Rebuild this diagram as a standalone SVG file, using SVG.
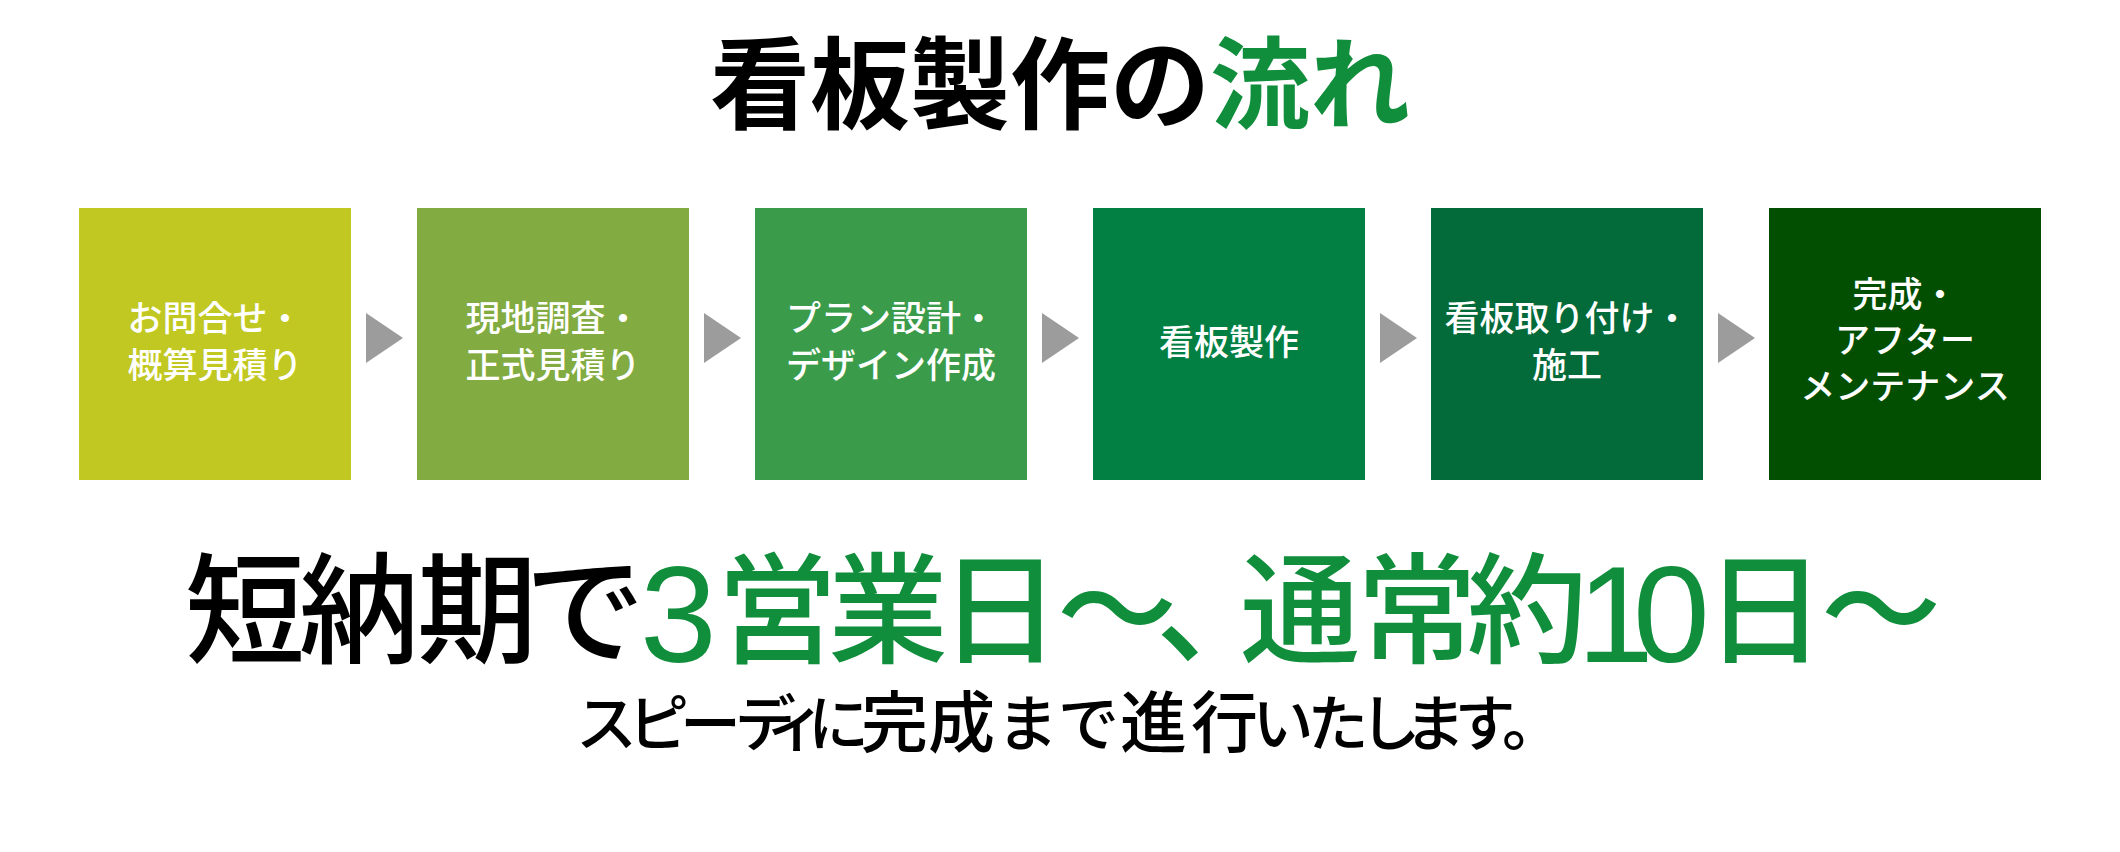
<svg xmlns="http://www.w3.org/2000/svg" width="2120" height="852" viewBox="0 0 2120 852">
<style>
.jp{font-family:"Noto Sans CJK JP","Noto Sans CJK SC",sans-serif}
.title{font-size:100px;font-weight:700;fill:#000}
.green{fill:#108E3C}
.box-label{font-size:35px;font-weight:500;fill:#fff;text-anchor:middle}
.tag{font-size:120px;font-weight:500;fill:#000}
.num{font-family:"Liberation Sans",Arial,sans-serif;font-size:138px;font-weight:400}
.sub{font-size:67px;font-weight:500;fill:#000}
.kana{font-size:61px}
.arrow{fill:#9C9C9C}
</style>
<rect width="2120" height="852" fill="#fff"/>
<text class="jp title" x="1060" y="121" text-anchor="middle">看板製作の<tspan class="green">流れ</tspan></text>

<g id="connectors">
<polygon class="arrow" points="366,313 403,338 366,363"/>
<polygon class="arrow" points="704,313 741,338 704,363"/>
<polygon class="arrow" points="1042,313 1079,338 1042,363"/>
<polygon class="arrow" points="1380,313 1417,338 1380,363"/>
<polygon class="arrow" points="1718,313 1755,338 1718,363"/>
</g>

<g id="step1">
<rect x="79" y="208" width="272" height="272" fill="#C1C822"/>
<text class="jp box-label"><tspan x="215" y="331">お問合せ・</tspan><tspan x="215" y="378">概算見積り</tspan></text>
</g>
<g id="step2">
<rect x="417" y="208" width="272" height="272" fill="#82AC41"/>
<text class="jp box-label"><tspan x="553" y="331">現地調査・</tspan><tspan x="553" y="378">正式見積り</tspan></text>
</g>
<g id="step3">
<rect x="755" y="208" width="272" height="272" fill="#3A9C4A"/>
<text class="jp box-label"><tspan x="891" y="331">プラン設計・</tspan><tspan x="891" y="378">デザイン作成</tspan></text>
</g>
<g id="step4">
<rect x="1093" y="208" width="272" height="272" fill="#028043"/>
<text class="jp box-label" x="1229" y="355">看板製作</text>
</g>
<g id="step5">
<rect x="1431" y="208" width="272" height="272" fill="#036A3A"/>
<text class="jp box-label"><tspan x="1567" y="331">看板取り付け・</tspan><tspan x="1567" y="378">施工</tspan></text>
</g>
<g id="step6">
<rect x="1769" y="208" width="272" height="272" fill="#024F02"/>
<text class="jp box-label"><tspan x="1905" y="307">完成・</tspan><tspan x="1905" y="353">アフター</tspan><tspan x="1905" y="399">メンテナンス</tspan></text>
</g>

<text class="jp tag"><tspan x="185 299 417 525" y="654">短納期で</tspan><tspan class="num green" x="640" y="662">3</tspan><tspan class="green" x="717 828 940 1057 1156 1240 1357 1467" y="654">営業日〜、通常約</tspan><tspan class="num green" x="1577 1633" y="662">10</tspan><tspan class="green" x="1705 1821" y="654">日〜</tspan></text>

<text class="jp sub"><tspan class="kana" x="576 628 680 735 765 808" y="745.5">スピーディに</tspan><tspan x="861 928" y="747">完成</tspan><tspan class="kana" x="997 1058" y="745.5">まで</tspan><tspan x="1120 1191" y="747">進行</tspan><tspan class="kana" x="1252.5 1307.5 1359.5 1404.5 1454.5 1502" y="745.5">いたします。</tspan></text>
</svg>
